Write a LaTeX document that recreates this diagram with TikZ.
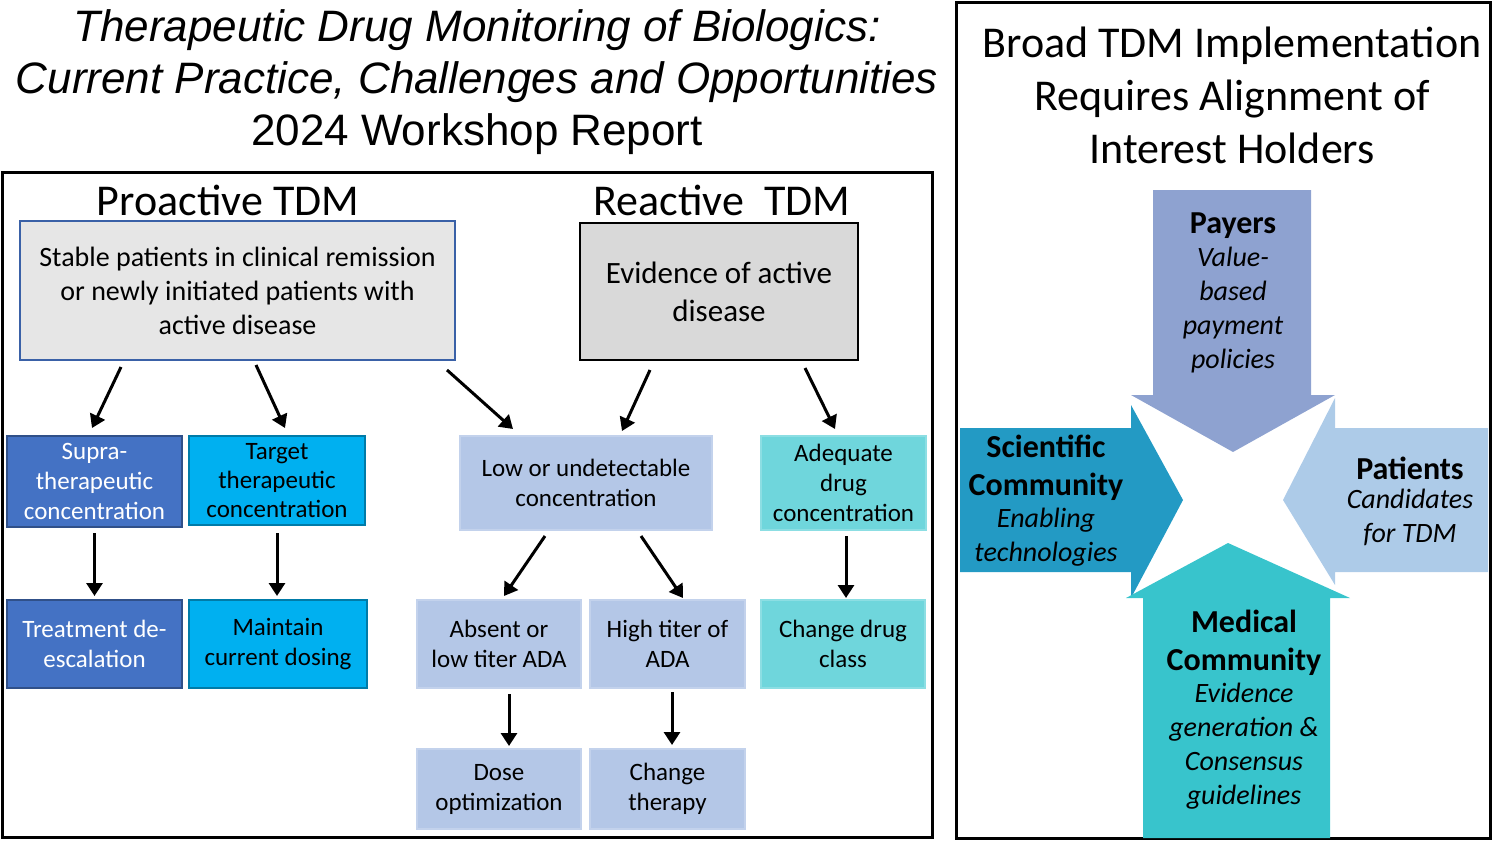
\documentclass[tikz,border=0pt]{standalone}
\usepackage{fontspec}
\setmainfont{Carlito}
\newfontfamily\arialfont{Liberation Sans}
\usetikzlibrary{arrows.meta,positioning}
\definecolor{boxgray}{HTML}{E6E6E6}
\definecolor{evgray}{HTML}{D9D9D9}
\definecolor{darkblue}{HTML}{4472C4}
\definecolor{skyblue}{HTML}{00B0F0}
\definecolor{paleblue}{HTML}{B4C7E7}
\definecolor{paleteal}{HTML}{6FD6DC}
\definecolor{payercol}{HTML}{8EA2D0}
\definecolor{scicol}{HTML}{239AC4}
\definecolor{patcol}{HTML}{ADCBE8}
\definecolor{medcol}{HTML}{38C4CC}
\tikzset{
  box/.style={draw, line width=2pt, align=center, inner sep=0pt, font=\fontsize{25}{30}\selectfont},
  arr/.style={line width=3pt, -{Triangle[length=13pt,width=16pt]}},
  grp/.style={font=\fontsize{32}{38}\selectfont\bfseries, align=center},
  sub/.style={font=\fontsize{28}{34}\selectfont\itshape, align=center},
}
\begin{document}
\begin{tikzpicture}[x=1pt,y=-1pt]
\useasboundingbox (0,0) rectangle (1502,841);
% titles
\node[font=\arialfont\fontsize{44}{52}\selectfont, align=center] (title) at (477,82)
  {\itshape Therapeutic Drug Monitoring of Biologics:\\ \itshape Current Practice, Challenges and Opportunities\\ 2024 Workshop Report};
\node[font=\fontsize{44}{53}\selectfont, align=center] (rtitle) at (1232,95)
  {Broad TDM Implementation\\ Requires Alignment of\\ Interest Holders};
\draw[line width=3pt] (2,172) rectangle (932,837);
\draw[line width=3pt] (956,2) rectangle (1490,838);
\node[font=\fontsize{44}{44}\selectfont] (pro) at (228,200) {Proactive TDM};
\node[font=\fontsize{44}{44}\selectfont] (rea) at (722,200) {Reactive\ \ TDM};
% top boxes
\node[box, draw=darkblue!85!black, fill=boxgray, minimum width=435, minimum height=139, font=\fontsize{28}{34}\selectfont] (stable) at (237.5,290.5)
  {Stable patients in clinical remission\\ or newly initiated patients with\\ active disease};
\node[box, fill=evgray, minimum width=278, minimum height=137, font=\fontsize{31}{38}\selectfont] (evid) at (719,291.5)
  {Evidence of active\\ disease};
% second row
\node[box, draw=darkblue!70!black, fill=darkblue, text=white, minimum width=175, minimum height=91] (supra) at (94.5,481.5) {Supra-\\ therapeutic\\ concentration};
\node[box, draw=skyblue!70!black, fill=skyblue, minimum width=176, minimum height=89, font=\fontsize{25}{29}\selectfont] (target) at (277,480.5) {Target\\ therapeutic\\ concentration};
\node[box, draw=paleblue!80!white, fill=paleblue, minimum width=252, minimum height=94] (low) at (586,483) {Low or undetectable\\ concentration};
\node[box, draw=paleteal!80!white, fill=paleteal, minimum width=165, minimum height=94] (adeq) at (843.5,483) {Adequate\\ drug\\ concentration};
% third row
\node[box, draw=darkblue!70!black, fill=darkblue, text=white, minimum width=175, minimum height=88] (deesc) at (94.5,644) {Treatment de-\\ escalation};
\node[box, draw=skyblue!70!black, fill=skyblue, minimum width=178, minimum height=88] (maint) at (278,644) {Maintain\\ current dosing};
\node[box, draw=paleblue!80!white, fill=paleblue, minimum width=164, minimum height=88] (absent) at (499,644) {Absent or\\ low titer ADA};
\node[box, draw=paleblue!80!white, fill=paleblue, minimum width=155, minimum height=88] (high) at (667.5,644) {High titer of\\ ADA};
\node[box, draw=paleteal!80!white, fill=paleteal, minimum width=164, minimum height=88] (cdc) at (843,644) {Change drug\\ class};
% fourth row
\node[box, draw=paleblue!80!white, fill=paleblue, minimum width=164, minimum height=80] (dose) at (499,789) {Dose\\ optimization};
\node[box, draw=paleblue!80!white, fill=paleblue, minimum width=155, minimum height=80] (ther) at (667.5,789) {Change\\ therapy};
% arrows
\coordinate (s1) at (121,367); \coordinate (s2) at (256,365); \coordinate (s3) at (447,370);
\coordinate (e1) at (650,370); \coordinate (e2) at (805,368);
\draw[arr] (s1) -- (92,428);
\draw[arr] (s2) -- (285,428);
\draw[arr] (s3) -- (513,429);
\draw[arr] (e1) -- (622,431);
\draw[arr] (e2) -- (835,429);
\draw[arr] (supra.south |- 0,533) -- (supra.south |- 0,596);
\draw[arr] (target.south |- 0,533) -- (target.south |- 0,596);
\draw[arr] (545,536) -- (504,596);
\draw[arr] (641,536) -- (683,598);
\draw[arr] (846,536) -- (846,598);
\draw[arr] (509,694) -- (509,746);
\draw[arr] (672,692) -- (672,745);
% cross of arrows
\fill[payercol] (1153,190) -- (1311,190) -- (1311,395) -- (1335,395) -- (1233,452) -- (1131,395) -- (1153,395) -- cycle;
\fill[scicol] (960,428) -- (1131,428) -- (1131,405) -- (1183,500) -- (1131,598) -- (1131,572) -- (960,572) -- cycle;
\fill[patcol] (1488,428) -- (1335,428) -- (1335,398) -- (1283,500) -- (1335,585) -- (1335,572) -- (1488,572) -- cycle;
\fill[medcol] (1143,838) -- (1330,838) -- (1330,598) -- (1350,598) -- (1228,543) -- (1126,598) -- (1143,598) -- cycle;
\node[grp] (payers) at (1233,226) {Payers};
\node[sub, anchor=north] (payersub) at (1233,244) {Value-\\ based\\ payment\\ policies};
\node[grp] (sci) at (1046,468) {Scientific\\ Community};
\node[sub, anchor=north] (scisub) at (1046,505) {Enabling\\ technologies};
\node[grp] (pat) at (1410,468) {Patients};
\node[sub, anchor=north] (patsub) at (1410,486) {Candidates\\ for TDM};
\node[grp] (med) at (1244,643) {Medical\\ Community};
\node[sub, anchor=north] (medsub) at (1244,680) {Evidence\\ generation \&\\ Consensus\\ guidelines};
\end{tikzpicture}
\end{document}
